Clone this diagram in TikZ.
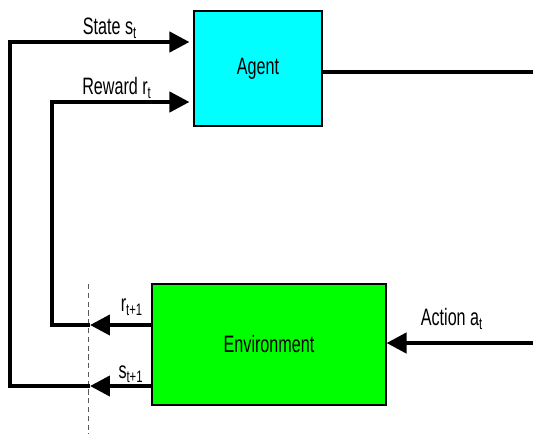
\documentclass[tikz,border=0pt]{standalone}
\usepackage{fontspec}
\setmainfont{Liberation Sans}
\newfontfamily\narrowfont[FakeStretch=0.68]{Liberation Sans}
\usetikzlibrary{arrows.meta}

\definecolor{agentcyan}{RGB}{0,255,255}
\definecolor{envgreen}{RGB}{0,255,0}

\begin{document}
\begin{tikzpicture}
[
	x=0.02cm, y=-0.02cm,
	box/.style={draw,line width=0.6pt,inner sep=0pt},
	wire/.style={line width=2.4pt},
	flow/.style={wire,-{Triangle[length=0.4cm,width=0.4cm]}},
	lbl/.style={font=\narrowfont\fontsize{13.5}{15}\selectfont,inner sep=0pt}
]
	\useasboundingbox (0,0) rectangle (533,434);

	% boxes
	\node[box,fill=agentcyan,minimum width=2.56cm,minimum height=2.3cm,lbl] (agent) at (258,68.5) {Agent};
	\node[box,fill=envgreen,minimum width=4.68cm,minimum height=2.42cm,lbl] (env) at (269,344.5) {Environment};

	% turning points
	\coordinate (stop) at (10,42);
	\coordinate (rtop) at (52,102);
	\coordinate (rtip) at (90,325);
	\coordinate (stip) at (90,386);
	\coordinate (aout) at (533,72);
	\coordinate (ain) at (533,343);

	% separator
	\draw[gray!70!black,dash pattern=on 3pt off 2pt,line width=0.5pt] (88,284) -- (88,434);

	% feedback from environment
	\draw[flow] (env.west |- rtip) -- (rtip);
	\draw[flow] (env.west |- stip) -- (stip);
	\draw[flow,shorten >=0.08cm] (rtip) -- (rtop |- rtip) -- (rtop) -- (agent.west |- rtop);
	\draw[flow,shorten >=0.08cm] (stip) -- (stop |- stip) -- (stop) -- (agent.west |- stop);

	% action
	\draw[wire] (agent.east |- aout) -- (aout);
	\draw[flow] (ain) -- (env.east |- ain);

	% labels
	\node[lbl] (slbl) at (110,28) {State s\textsubscript{t}};
	\node[lbl] (rlbl) at (117,88) {Reward r\textsubscript{t}};
	\node[lbl] (r1lbl) at (132,307) {r\textsubscript{t+1}};
	\node[lbl] (s1lbl) at (131,374) {s\textsubscript{t+1}};
	\node[lbl] (albl) at (452,319) {Action a\textsubscript{t}};

\end{tikzpicture}
\end{document}
